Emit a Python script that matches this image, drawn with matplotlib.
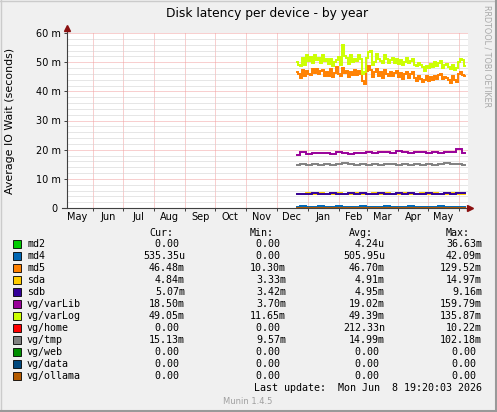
import datetime as dt
import matplotlib
matplotlib.use('Agg')
import matplotlib.pyplot as plt
import matplotlib.dates as mdates
import numpy as np
from matplotlib.patches import Rectangle
from matplotlib.lines import Line2D

# ---- data (values in milliseconds) ------------------------------------------
start = dt.date(2025, 12, 21)

# 2-day samples for the two busy series
varLog = [
    50.2, 49.1, 48.6, 51.4, 49.0, 52.6, 50.5, 51.8, 49.7, 52.4,
    50.9, 51.6, 49.8, 52.3, 50.4, 51.1, 49.4, 51.0, 48.8, 49.9,
    50.9, 51.7, 49.2, 55.8, 52.1, 51.3, 49.5, 52.6, 50.1, 51.2,
    50.3, 52.4, 51.0, 45.9, 46.5, 51.6, 53.4, 53.7, 49.1, 50.0,
    52.8, 51.2, 50.4, 49.6, 52.3, 51.0, 49.7, 50.6, 51.5, 49.8,
    51.0, 49.4, 50.8, 49.0, 50.2, 51.3, 49.7, 50.3, 51.1, 49.2,
    48.7, 49.6, 48.9, 48.2, 47.0, 48.8, 47.9, 49.3, 48.4, 50.1,
    48.6, 49.8, 50.3, 48.1, 48.9, 49.5, 48.3, 47.5, 49.0, 47.2,
    47.9, 50.2, 51.0, 50.6, 48.8,
]
md5 = [
    46.8, 45.9, 44.7, 47.2, 45.3, 47.0, 46.1, 45.6, 47.8, 46.2,
    47.5, 45.8, 46.9, 47.3, 45.1, 46.6, 45.4, 47.7, 45.0, 46.3,
    48.2, 46.0, 45.2, 47.9, 46.4, 47.1, 44.9, 46.8, 45.7, 47.4,
    45.5, 47.0, 46.1, 43.4, 42.6, 46.9, 48.8, 47.3, 44.8, 46.5,
    47.6, 45.3, 46.8, 44.6, 47.2, 45.9, 45.1, 46.7, 45.4, 46.2,
    46.9, 45.0, 46.3, 44.3, 45.8, 46.6, 44.7, 45.9, 46.8, 44.5,
    43.6, 45.2, 44.4, 43.2, 44.0, 45.1, 43.5, 44.9, 43.8, 45.4,
    44.1, 45.6, 46.0, 44.2, 45.0, 44.6, 43.9, 43.0, 45.3, 44.0,
    43.1, 45.8, 46.5, 45.7, 45.2,
]

# 6-day samples for the quiet series
varLib = [18.3, 19.2, 18.6, 18.9, 18.7, 18.8, 18.5, 19.1, 18.9, 18.6,
          19.0, 18.8, 19.2, 18.9, 19.1, 19.3, 18.9, 19.4, 19.2, 19.0,
          19.3, 19.1, 18.9, 19.2, 19.0, 19.3, 19.1, 20.1, 18.8]
vgtmp = [14.8, 15.1, 14.9, 15.0, 14.9, 15.2, 14.8, 15.1, 15.6, 15.0,
         14.9, 15.1, 14.8, 15.0, 14.9, 15.1, 15.0, 14.8, 15.1, 14.9,
         15.2, 14.9, 15.0, 14.8, 15.1, 15.3, 15.0, 15.2, 14.9]
sda = [4.9, 4.8, 5.0, 4.9, 5.1, 4.8, 4.9, 5.0, 4.8, 4.9,
       5.1, 4.9, 4.8, 5.0, 4.9, 5.0, 4.8, 4.9, 5.1, 4.9,
       4.8, 5.0, 4.9, 5.1, 4.8, 4.9, 5.0, 4.9, 4.8]
sdb = [4.8, 4.9, 4.9, 5.0, 4.9, 4.9, 5.0, 4.9, 4.9, 5.0,
       4.9, 5.0, 4.9, 4.9, 5.0, 4.9, 4.9, 5.0, 4.9, 5.0,
       4.9, 4.9, 5.0, 4.9, 4.9, 5.0, 4.9, 5.0, 5.0]
md4 = [0.4, 0.6, 0.5, 0.4, 0.7, 0.5, 0.4, 0.6, 0.5, 0.4,
       0.5, 0.6, 0.4, 0.5, 0.4, 0.6, 0.5, 0.4, 0.5, 0.6,
       0.4, 0.5, 0.5, 0.4, 0.6, 0.5, 0.4, 0.5, 0.5]
zero = [0.0] * 29

names = ['md2', 'md4', 'md5', 'sda', 'sdb', 'vg/varLib', 'vg/varLog',
         'vg/home', 'vg/tmp', 'vg/web', 'vg/data', 'vg/ollama']
colors = ['#00CC00', '#0066B3', '#FF8000', '#FFCC00', '#330099', '#990099',
          '#CCFF00', '#FF0000', '#808080', '#008F00', '#00487D', '#B35A00']
cur = ['0.00 ', '535.35u', '46.48m', '4.84m', '5.07m', '18.50m', '49.05m',
       '0.00 ', '15.13m', '0.00 ', '0.00 ', '0.00 ']
mins = ['0.00 ', '0.00 ', '10.30m', '3.33m', '3.42m', '3.70m', '11.65m',
        '0.00 ', '9.57m', '0.00 ', '0.00 ', '0.00 ']
avgs = ['4.24u', '505.95u', '46.70m', '4.91m', '4.95m', '19.02m', '49.39m',
        '212.33n', '14.99m', '0.00 ', '0.00 ', '0.00 ']
maxs = ['36.63m', '42.09m', '129.52m', '14.97m', '9.16m', '159.79m', '135.87m',
        '10.22m', '102.18m', '0.00 ', '0.00 ', '0.00 ']

ytick_vals = [0, 10, 20, 30, 40, 50, 60]
ytick_labels = ['0 ', '10 m', '20 m', '30 m', '40 m', '50 m', '60 m']

# ---- figure ---------------------------------------------------------------
W, H = 497, 412
fig = plt.figure(figsize=(W / 100, H / 100), dpi=100, facecolor='#F0F0F0')


def fx(px):
    return px / W


def fy(py):
    return 1 - py / H


ax = fig.add_axes([fx(67), fy(208), 401 / W, 175 / H])
ax.set_facecolor('white')

d2 = [start + dt.timedelta(days=2 * i) for i in range(len(varLog))]
d6 = [start + dt.timedelta(days=6 * i) for i in range(len(varLib))]

series = {
    'md2': (d6, zero), 'md4': (d6, md4), 'md5': (d2, md5), 'sda': (d6, sda),
    'sdb': (d6, sdb), 'vg/varLib': (d6, varLib), 'vg/varLog': (d2, varLog),
    'vg/home': (d6, zero), 'vg/tmp': (d6, vgtmp), 'vg/web': (d6, zero),
    'vg/data': (d6, zero), 'vg/ollama': (d6, zero),
}
for n, c in zip(names, colors):
    xs, ys = series[n]
    ax.plot(xs, np.array(ys) / 1000, drawstyle='steps-mid', color=c, lw=1.4,
            solid_joinstyle='miter')

ax.set_xlim(dt.date(2025, 5, 6), dt.date(2026, 6, 10))
ax.set_ylim(0, 0.06)

dot = (0, (1, 1))
ax.xaxis.set_major_locator(mdates.MonthLocator())
ax.xaxis.set_major_formatter(plt.NullFormatter())
ax.xaxis.set_minor_locator(mdates.MonthLocator(bymonthday=16))
ax.xaxis.set_minor_formatter(mdates.DateFormatter('%b'))
ax.set_yticks(np.array(ytick_vals) / 1000)
ax.set_yticklabels(ytick_labels)
ax.set_yticks(np.arange(0, 0.0601, 0.002), minor=True)

ax.grid(which='minor', axis='y', color='#CFCFCF', lw=0.72, ls=dot)
ax.grid(which='major', axis='both', color='#F2A0A0', lw=0.72, ls=dot)
ax.set_axisbelow(True)

ax.tick_params(axis='x', which='major', length=2.5, width=0.7, color='#404040',
               direction='out')
ax.tick_params(axis='x', which='minor', length=0, labelsize=7, pad=3)
ax.tick_params(axis='y', which='major', length=2.5, width=0.7, color='#404040',
               labelsize=7, pad=2)
ax.tick_params(axis='y', which='minor', length=0)
for s in ax.spines.values():
    s.set_visible(False)

# axis lines and arrows
ax.plot([-5 / 401, 1.006], [0, 0], transform=ax.transAxes, color='#404040',
        lw=0.8, clip_on=False)
ax.plot([0, 0], [0, 1.03], transform=ax.transAxes, color='#404040',
        lw=0.8, clip_on=False)
ax.plot(1.006, 0, '>', ms=4, color='#8B1010', transform=ax.transAxes, clip_on=False)
ax.plot(0, 1.03, '^', ms=4, color='#8B1010', transform=ax.transAxes, clip_on=False)

# titles
fig.text(fx(267.5), fy(13), 'Disk latency per device - by year', ha='center',
         va='center', fontsize=8.8)
fig.text(fx(10), fy(120.5), 'Average IO Wait (seconds)', ha='center',
         va='center', rotation=90, fontsize=7.9)
fig.text(fx(487.5), fy(5), 'RRDTOOL / TOBI OETIKER', ha='center', va='top',
         rotation=270, fontsize=5.8, color='#A8A8A8')

# legend table
mono = 'DejaVu Sans Mono'
fs = 7.2
col_right = [185, 286, 385, 482]
for r, h in zip(col_right, ['Cur:', 'Min:', 'Avg:', 'Max:']):
    fig.text(fx(r - 12), fy(233), h, ha='right', va='center', family=mono, fontsize=fs)
for i, n in enumerate(names):
    y = 244 + 12 * i
    fig.patches.append(Rectangle((fx(13), fy(y + 4)), 8 / W, 8 / H, transform=fig.transFigure,
                                 facecolor=colors[i], edgecolor='black', lw=0.6))
    fig.text(fx(27), fy(y), n, ha='left', va='center', family=mono, fontsize=fs)
    for r, col in zip(col_right, [cur, mins, avgs, maxs]):
        fig.text(fx(r), fy(y), col[i].replace(' ', '\u2007'), ha='right', va='center',
                 family=mono, fontsize=fs)

fig.text(fx(482), fy(388), 'Last update:  Mon Jun  8 19:20:03 2026', ha='right',
         va='center', family=mono, fontsize=fs)
fig.text(fx(248), fy(402), 'Munin 1.4.5', ha='center', va='center', fontsize=6,
         color='#A0A0A0')

# frame
fig.lines.append(Line2D([0, 1], [fy(0.5), fy(0.5)], transform=fig.transFigure,
                        color='#CBCBCB', lw=1))
fig.lines.append(Line2D([fx(0.5), fx(0.5)], [0, 1], transform=fig.transFigure,
                        color='#CBCBCB', lw=1))
fig.lines.append(Line2D([0, 1], [fy(411), fy(411)], transform=fig.transFigure,
                        color='#999999', lw=1.5))
fig.lines.append(Line2D([fx(496), fx(496)], [0, 1], transform=fig.transFigure,
                        color='#999999', lw=1.5))

fig.savefig('out.png', dpi=100, facecolor=fig.get_facecolor())
